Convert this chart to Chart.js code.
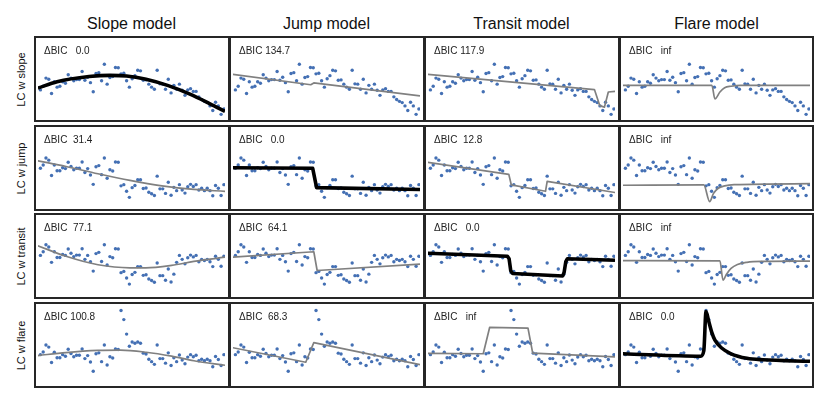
<!DOCTYPE html>
<html>
<head>
<meta charset="utf-8">
<script src="https://cdn.jsdelivr.net/npm/chart.js@4.4.1/dist/chart.umd.min.js"></script>
<style>
  html, body { margin:0; padding:0; background:#fff; }
  body { width:831px; height:406px; position:relative; overflow:hidden;
         font-family:"Liberation Sans", Arial, Helvetica, sans-serif; color:#1a1a1a; }
  canvas { position:absolute; display:block; }
  .frame { position:absolute; box-sizing:border-box; border:2px solid #262626; pointer-events:none; }
  .bic { position:absolute; font-size:10px; line-height:10px; white-space:pre; color:#222; }
  .title { position:absolute; font-size:16px; line-height:16px; text-align:center; width:195px; color:#111; }
  .rowlab { position:absolute; font-size:11px; line-height:11px; width:100px; text-align:center;
            transform:rotate(-90deg); color:#111; white-space:nowrap; }
</style>
</head>
<body>
<script>
// ---------------- DATA ----------------
const modelNames = ['Slope model', 'Jump model', 'Transit model', 'Flare model'];
const lcNames = ['LC w slope', 'LC w jump', 'LC w transit', 'LC w flare'];

// time index of the light-curve samples
const time = [0,1,2,3,4,5,6,7,8,9,10,11,12,13,14,15,16,17,18,19,20,21,22,23,24,25,26,27,28,29,30,31,32,33,34,35,36,37,38,39,40,41,42,43,44,45,46,47,48,49,50,51,52,53,54,55,56,57,58,59,60,61,62,63,64,65,66];

// light curves (flux, arbitrary units)
const lcSlope   = [113,125,152,148,101,140,122,125,140,135,163,152,143,147,147,174,145,155,137,107,167,170,143,198,132,154,157,187,186,166,168,143,122,150,160,178,176,145,146,132,122,115,178,133,132,115,148,103,128,115,132,112,95,113,117,108,108,90,81,75,71,60,45,72,60,32,50];
const lcJump    = [148,159,182,175,124,159,140,140,150,147,168,154,143,148,148,169,134,147,126,95,153,157,127,182,115,143,139,169,168,90,94,72,52,84,91,110,110,81,83,69,64,58,122,80,80,65,102,59,85,74,94,76,66,87,95,88,94,76,82,74,82,74,57,91,82,58,94];
const lcTransit = [151,163,186,179,128,163,144,144,154,151,172,158,147,152,152,173,138,151,130,99,157,161,131,186,119,147,143,173,172,94,98,76,56,88,95,114,114,85,87,73,68,62,126,84,84,69,106,63,89,128,151,138,123,143,152,146,151,130,138,134,138,130,114,148,138,115,148];
const lcFlare   = [117,126,149,142,91,125,107,107,117,112,135,121,110,115,115,136,104,114,93,62,120,123,94,149,83,110,106,136,134,263,233,185,145,159,155,159,155,122,119,102,94,85,149,104,104,89,123,81,107,94,116,99,87,109,117,110,115,97,102,97,102,97,77,111,101,81,117];

// Delta BIC labels per light curve (columns: slope, jump, transit, flare model)
const bicSlopeLC   = ['  0.0', '134.7', '117.9', '  inf'];
const bicJumpLC    = [' 31.4', '  0.0', ' 12.8', '  inf'];
const bicTransitLC = [' 77.1', ' 64.1', '  0.0', '  inf'];
const bicFlareLC   = ['100.8', ' 68.3', '  inf', '  0.0'];

// fitted model curves: *_t = time, *_f = flux
// LC w slope
const sSlope_t   = [-0.9, 6, 17.5, 25, 31, 38, 46, 54, 61, 66.4];
const sSlope_f   = [119, 140, 157, 161, 159, 148, 127, 98, 67, 42];
const sJump_t    = [-0.9, 27.1, 28.2, 66.4];
const sJump_f    = [164, 130, 136, 93];
const sTransit_t = [-0.9, 59.0, 60.9, 62.6, 64.0, 66.4];
const sTransit_f = [164, 114, 61, 56, 106, 108];
const sFlare_t   = [-0.9, 31.1, 32.2, 34.0, 35.7, 38.0, 41.4, 66.4];
const sFlare_f   = [128, 128, 83, 106, 120, 125, 128, 128];
// LC w jump
const jSlope_t   = [-0.9, 9.2, 20.7, 32.2, 43.7, 55.2, 66.4];
const jSlope_f   = [173, 154, 130, 108, 90, 78, 72];
const jJump_t    = [-0.9, 27.8, 29.2, 66.4];
const jJump_f    = [150, 148, 84, 78];
const jTransit_t = [-0.9, 28.2, 29.1, 41.4, 42.0, 66.4];
const jTransit_f = [168, 128, 93, 72, 105, 68];
const jFlare_t   = [-0.9, 28.2, 30.3, 31.7, 33.4, 35.7, 39.1, 66.4];
const jFlare_f   = [92, 93, 38, 65, 82, 90, 94, 97];
// LC w transit
const tSlope_t   = [-0.9, 9.2, 20.7, 32.2, 37.9, 47.2, 55.2, 66.4];
const tSlope_f   = [183, 148, 120, 110, 110, 118, 131, 145];
const tJump_t    = [-0.9, 28.2, 29.4, 66.4];
const tJump_f    = [145, 163, 101, 122];
const tTransit_t = [-0.9, 27.7, 28.3, 28.9, 29.6, 47.6, 48.1, 48.7, 49.3, 66.4];
const tTransit_f = [158, 148, 140, 100, 91, 83, 95, 130, 140, 135];
const tFlare_t   = [-0.9, 34.0, 35.1, 36.3, 38.0, 40.3, 43.7, 49.5, 66.4];
const tFlare_f   = [134, 133, 69, 88, 108, 121, 128, 131, 132];
// LC w flare
const fSlope_t   = [-0.9, 9.2, 20.7, 28.8, 38, 47.2, 55.2, 66.4];
const fSlope_f   = [114, 124, 131, 132, 125, 112, 97, 82];
const fJump_t    = [-0.9, 25.3, 28.2, 66.4];
const fJump_f    = [140, 92, 157, 84];
const fTransit_t = [-0.9, 19.0, 21.3, 35.1, 36.8, 66.4];
const fTransit_f = [121, 120, 207, 205, 122, 110];
const fFlare_t   = [-0.9, 27.1, 28.2, 29.0, 29.9, 31.1, 32.2, 34.5, 38, 43.7, 49.5, 66.4];
const fFlare_f   = [120, 112, 130, 260, 230, 190, 165, 140, 120, 105, 100, 95];

// ---------------- LAYOUT ----------------
const colLeft = [34, 229, 424, 619];
const rowTop = [36, 125, 213, 302];
const panelW = 195, panelH = 86;

const grid = [
  { lc: lcSlope,   bic: bicSlopeLC,   fits: [[sSlope_t, sSlope_f], [sJump_t, sJump_f], [sTransit_t, sTransit_f], [sFlare_t, sFlare_f]] },
  { lc: lcJump,    bic: bicJumpLC,    fits: [[jSlope_t, jSlope_f], [jJump_t, jJump_f], [jTransit_t, jTransit_f], [jFlare_t, jFlare_f]] },
  { lc: lcTransit, bic: bicTransitLC, fits: [[tSlope_t, tSlope_f], [tJump_t, tJump_f], [tTransit_t, tTransit_f], [tFlare_t, tFlare_f]] },
  { lc: lcFlare,   bic: bicFlareLC,   fits: [[fSlope_t, fSlope_f], [fJump_t, fJump_f], [fTransit_t, fTransit_f], [fFlare_t, fFlare_f]] }
];
const smoothModel = [true, false, false, true];

function el(tag, cls, text) {
  const e = document.createElement(tag);
  if (cls) e.className = cls;
  if (text !== undefined) e.textContent = text;
  document.body.appendChild(e);
  return e;
}

// column titles
modelNames.forEach((name, c) => {
  const t = el('div', 'title', name);
  t.style.left = colLeft[c] + 'px';
  t.style.top = '16px';
});
// row labels
lcNames.forEach((name, r) => {
  const t = el('div', 'rowlab', name);
  const cy = rowTop[r] + panelH / 2;
  t.style.left = (21 - 50) + 'px';
  t.style.top = (cy - 5.5) + 'px';
});

grid.forEach((row, r) => {
  const pts = time.map((t, i) => ({ x: t, y: row.lc[i] }));
  row.fits.forEach((fit, c) => {
    const cv = document.createElement('canvas');
    cv.width = panelW; cv.height = panelH;
    cv.style.left = colLeft[c] + 'px';
    cv.style.top = rowTop[r] + 'px';
    cv.style.width = panelW + 'px';
    cv.style.height = panelH + 'px';
    document.body.appendChild(cv);
    const best = (r === c);
    const model = fit[0].map((t, k) => ({ x: t, y: fit[1][k] }));
    new Chart(cv, {
      type: 'scatter',
      data: {
        datasets: [
          { data: pts, showLine: false, pointRadius: 1.7, pointBorderWidth: 0,
            pointBackgroundColor: '#4470b4', backgroundColor: '#4470b4', order: 2 },
          { data: model, showLine: true, pointRadius: 0,
            borderColor: best ? '#000000' : '#808080', borderWidth: best ? 3.6 : 1.7,
            borderJoinStyle: 'round', borderCapStyle: 'butt',
            tension: smoothModel[c] ? 0.4 : 0,
            cubicInterpolationMode: smoothModel[c] ? 'monotone' : 'default',
            order: 1 }
        ]
      },
      options: {
        responsive: false, animation: false, events: [], devicePixelRatio: 1,
        layout: { padding: 0 },
        plugins: { legend: { display: false }, tooltip: { enabled: false } },
        scales: {
          x: { type: 'linear', display: false, min: -0.87, max: 66.4 },
          y: { type: 'linear', display: false, min: 20, max: 278 }
        }
      }
    });
    const fr = el('div', 'frame');
    fr.style.left = colLeft[c] + 'px';
    fr.style.top = rowTop[r] + 'px';
    fr.style.width = (c === 3 ? panelW : panelW + 1) + 'px';
    fr.style.height = panelH + 'px';
    const b = el('div', 'bic', '\u0394BIC ' + row.bic[c]);
    b.style.left = (colLeft[c] + 10) + 'px';
    b.style.top = (rowTop[r] + 10) + 'px';
  });
});
</script>
</body>
</html>
